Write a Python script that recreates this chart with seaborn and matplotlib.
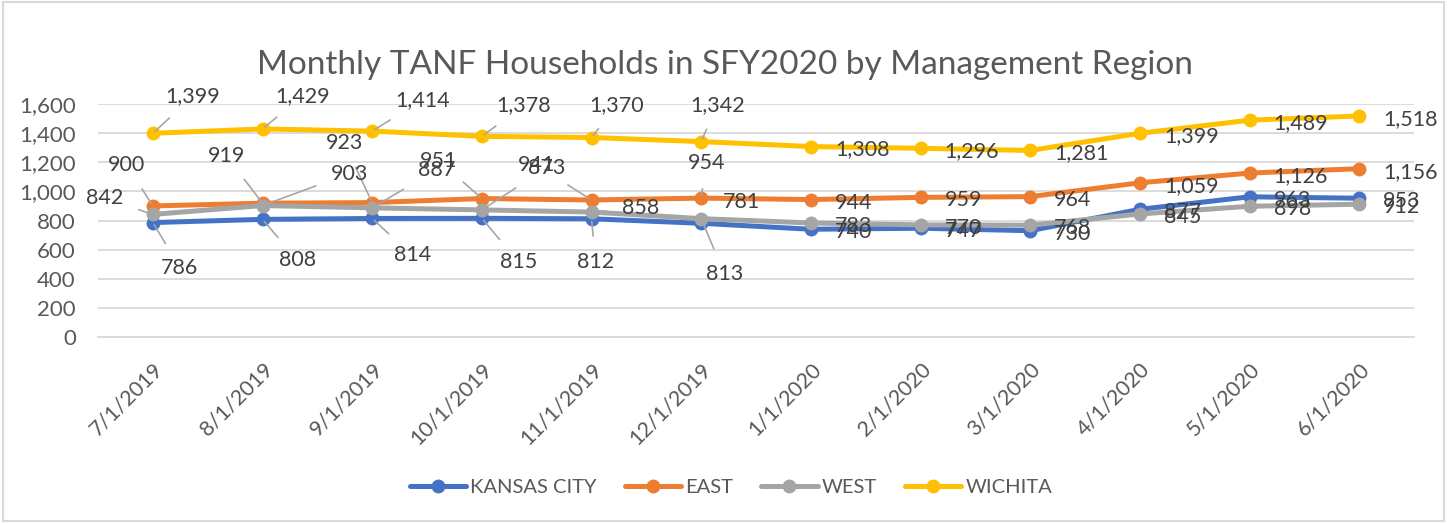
import matplotlib
matplotlib.use("Agg")
import matplotlib.pyplot as plt
import seaborn as sns
import pandas as pd
from matplotlib.lines import Line2D

months = ["7/1/2019", "8/1/2019", "9/1/2019", "10/1/2019", "11/1/2019", "12/1/2019",
          "1/1/2020", "2/1/2020", "3/1/2020", "4/1/2020", "5/1/2020", "6/1/2020"]
regions = ["KANSAS CITY", "EAST", "WEST", "WICHITA"]

kansas_city = [786, 808, 814, 815, 812, 781, 740, 747, 730, 877, 963, 953]
east = [900, 919, 923, 951, 941, 954, 944, 959, 964, 1059, 1126, 1156]
west = [842, 903, 887, 873, 858, 813, 783, 770, 768, 845, 898, 912]
wichita = [1399, 1429, 1414, 1378, 1370, 1342, 1308, 1296, 1281, 1399, 1489, 1518]

colors = ["#4472C4", "#ED7D31", "#A5A5A5", "#FFC000"]

# label offsets in pixels for the first six months (Excel moved these, with leader lines)
moved = {
    "KANSAS CITY": [(27, -45), (35, -41), (40, -37), (37, -44), (4, -43), (40, 21)],
    "EAST": [(-26, 41), (-36, 47), (-28, 60), (-43, 38), (-55, 35), (5, 35)],
    "WEST": [(-48, 16), (87, 32), (64, 38), (65, 42), (49, 4), (23, -55)],
    "WICHITA": [(40, 37), (40, 33), (50, 31), (42, 31), (25, 32), (16, 37)],
}

series = [kansas_city, east, west, wichita]
df = pd.DataFrame({
    "month": list(range(len(months))) * len(regions),
    "households": sum(series, []),
    "region": [r for r in regions for _ in months],
})

sns.set_style("white")
plt.rcParams["font.family"] = ["Lato", "DejaVu Sans"]
grey = "#595959"

fig = plt.figure(figsize=(14.5, 5.23), dpi=100)
ax = fig.add_axes([0.0676, 0.3556, 0.9076, 0.4455])

sns.lineplot(data=df, x="month", y="households", hue="region", palette=colors,
             marker="o", markersize=10, markeredgewidth=0, linewidth=3.6,
             legend=False, ax=ax, zorder=3)

for name, vals in zip(regions, series):
    for i, v in enumerate(vals):
        label = f"{v:,}"
        if i < 6:
            dx, dy = moved[name][i]
            ax.annotate(label, (i, v), xytext=(dx, dy), textcoords="offset pixels",
                        ha="center", va="center", fontsize=15.5, color="#404040",
                        arrowprops=dict(arrowstyle="-", color="#A6A6A6", lw=1.2,
                                        shrinkA=9, shrinkB=2),
                        zorder=4)
        else:
            ax.annotate(label, (i, v), xytext=(24, -3), textcoords="offset pixels",
                        ha="left", va="center", fontsize=15.5, color="#404040", zorder=4)

ax.set_xlim(-0.5, len(months) - 0.5)
ax.set_ylim(0, 1600)
ax.set_yticks(range(0, 1601, 200))
ax.set_yticklabels([f"{t:,}" for t in range(0, 1601, 200)], fontsize=16, color=grey)
ax.set_xticks(range(len(months)))
ax.set_xticklabels(months, rotation=45, ha="right", rotation_mode="anchor",
                   fontsize=15.5, color=grey)
ax.tick_params(axis="x", length=0, pad=16)
ax.tick_params(axis="y", length=0, pad=16)
ax.set_xticks([i - 0.5 for i in range(len(months) + 1)], minor=True)
ax.tick_params(axis="x", which="minor", length=7, width=1.3, color="#D9D9D9", direction="out")
ax.grid(axis="y", color="#D9D9D9", lw=1.3)
ax.set_axisbelow(True)
for s in ["top", "right", "left"]:
    ax.spines[s].set_visible(False)
ax.spines["bottom"].set_color("#D9D9D9")
ax.spines["bottom"].set_linewidth(1.3)
ax.set_xlabel("")
ax.set_ylabel("")

fig.suptitle("Monthly TANF Households in SFY2020 by Management Region",
             fontsize=24, color=grey, y=0.905)

handles = [Line2D([], [], color=c, lw=3.6, marker="o", markersize=10, markeredgewidth=0)
           for c in colors]
fig.legend(handles, regions, loc="center", bbox_to_anchor=(0.504, 0.068), ncol=4,
           frameon=False, fontsize=14.5, labelcolor=grey, handlelength=2.8,
           columnspacing=1.4, handletextpad=0.2)

fig.patches.append(plt.Rectangle((0.002, 0.004), 0.994, 0.992, transform=fig.transFigure,
                                 fill=False, edgecolor="#D9D9D9", lw=1.5))

fig.savefig("out.png", dpi=100)
